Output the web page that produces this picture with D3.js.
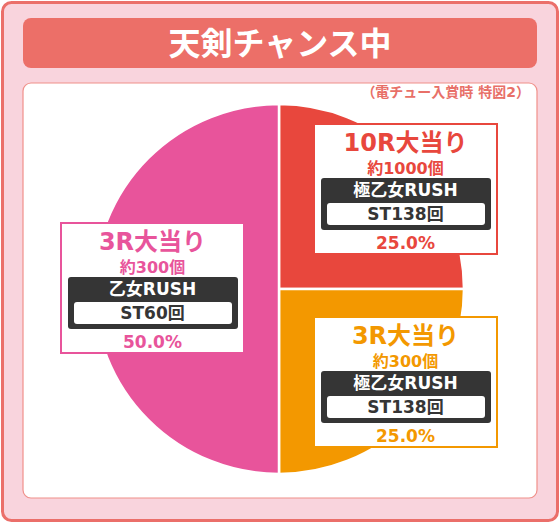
<!DOCTYPE html>
<html>
<head>
<meta charset="utf-8">
<script src="https://cdn.jsdelivr.net/npm/d3@7"></script>
<style>
  body { margin: 0; background: #fff; }
  text { font-family: "DejaVu Sans", "Noto Sans CJK JP", sans-serif; font-weight: 700; }
</style>
</head>
<body>
<script>
// chart data
var title = "天剣チャンス中";
var subtitle = "（電チュー入賞時 特図2）";
var categories = ["10R大当り", "3R大当り", "3R大当り"];
var payouts = ["約1000個", "約300個", "約300個"];
var modes = ["極乙女RUSH", "極乙女RUSH", "乙女RUSH"];
var stCounts = ["ST138回", "ST138回", "ST60回"];
var shares = [25.0, 25.0, 50.0];
var colors = ["#e8473d", "#f39800", "#e8549b"];

// where each label box sits (top-left corner)
var boxPos = [[314, 124], [314, 317], [61, 223]];

var W = 560, H = 523;
var svg = d3.select("body").append("svg")
  .attr("width", W)
  .attr("height", H);

// outer frame
svg.append("rect")
  .attr("x", 2.5).attr("y", 2.5)
  .attr("width", W - 5).attr("height", H - 5)
  .attr("rx", 9)
  .attr("fill", "#f9d4dd")
  .attr("stroke", "#eb6f6a")
  .attr("stroke-width", 3);

// title bar
svg.append("rect")
  .attr("x", 23).attr("y", 18)
  .attr("width", 514).attr("height", 50)
  .attr("rx", 8)
  .attr("fill", "#ec6f68");
svg.append("text")
  .attr("x", 280).attr("y", 44)
  .attr("text-anchor", "middle")
  .attr("dominant-baseline", "central")
  .attr("font-size", 32)
  .attr("fill", "#fff")
  .text(title);

// white panel
svg.append("rect")
  .attr("x", 23).attr("y", 83)
  .attr("width", 514).attr("height", 415)
  .attr("rx", 8)
  .attr("fill", "#fff")
  .attr("stroke", "#f0908a")
  .attr("stroke-width", 1.2);
svg.append("text")
  .attr("x", 530).attr("y", 92)
  .attr("text-anchor", "end")
  .attr("dominant-baseline", "central")
  .attr("font-size", 14)
  .attr("fill", "#e87068")
  .text(subtitle);

// pie
var cx = 279, cy = 289, r = 185;
var pie = d3.pie().sort(null).value(function(d) { return d; });
var arc = d3.arc().innerRadius(0).outerRadius(r);

svg.append("g")
  .attr("transform", "translate(" + cx + "," + cy + ")")
  .selectAll("path")
  .data(pie(shares))
  .enter().append("path")
  .attr("d", arc)
  .attr("fill", function(d, i) { return colors[i]; })
  .attr("stroke", "#fff")
  .attr("stroke-width", 2.5);

// label boxes
var bw = 183, bh = 130;
var labels = svg.selectAll("g.lab")
  .data(shares)
  .enter().append("g")
  .attr("class", "lab")
  .attr("transform", function(d, i) { return "translate(" + boxPos[i][0] + "," + boxPos[i][1] + ")"; });

labels.append("rect")
  .attr("width", bw).attr("height", bh)
  .attr("fill", "#fff")
  .attr("stroke", function(d, i) { return colors[i]; })
  .attr("stroke-width", 2);

labels.append("text")
  .attr("x", bw / 2).attr("y", 19)
  .attr("text-anchor", "middle").attr("dominant-baseline", "central")
  .attr("font-size", 24)
  .attr("fill", function(d, i) { return colors[i]; })
  .text(function(d, i) { return categories[i]; });

labels.append("text")
  .attr("x", bw / 2).attr("y", 44)
  .attr("text-anchor", "middle").attr("dominant-baseline", "central")
  .attr("font-size", 16)
  .attr("fill", function(d, i) { return colors[i]; })
  .text(function(d, i) { return payouts[i]; });

labels.append("rect")
  .attr("x", 7).attr("y", 54)
  .attr("width", 170).attr("height", 52)
  .attr("rx", 3)
  .attr("fill", "#353535");

labels.append("text")
  .attr("x", bw / 2).attr("y", 66)
  .attr("text-anchor", "middle").attr("dominant-baseline", "central")
  .attr("font-size", 17)
  .attr("fill", "#fff")
  .text(function(d, i) { return modes[i]; });

labels.append("rect")
  .attr("x", 13).attr("y", 79)
  .attr("width", 158).attr("height", 22)
  .attr("rx", 3)
  .attr("fill", "#fff");

labels.append("text")
  .attr("x", bw / 2).attr("y", 90)
  .attr("text-anchor", "middle").attr("dominant-baseline", "central")
  .attr("font-size", 17)
  .attr("fill", "#353535")
  .text(function(d, i) { return stCounts[i]; });

labels.append("text")
  .attr("x", bw / 2).attr("y", 119)
  .attr("text-anchor", "middle").attr("dominant-baseline", "central")
  .attr("font-size", 17)
  .attr("fill", function(d, i) { return colors[i]; })
  .text(function(d) { return d.toFixed(1) + "%"; });
</script>
</body>
</html>
